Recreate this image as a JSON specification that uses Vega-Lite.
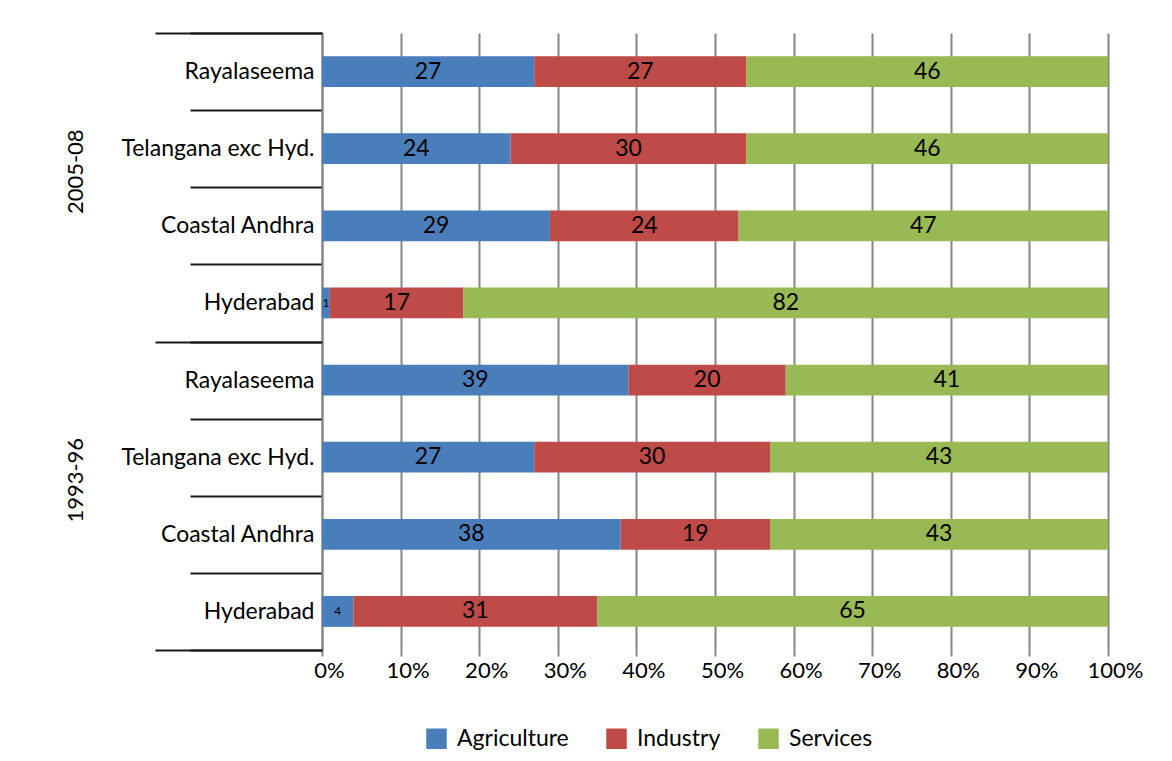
{
  "$schema": "https://vega.github.io/schema/vega-lite/v6.json",
  "width": 786,
  "height": 617,
  "autosize": {"type": "none"},
  "padding": {"left": 322, "top": 33, "right": 64, "bottom": 111},
  "background": "white",
  "config": {
    "view": {"stroke": null},
    "font": "Lato",
    "axis": {"labelColor": "#000000", "labelFont": "Lato"},
    "legend": {"labelColor": "#000000", "labelFont": "Lato"}
  },
  "datasets": {
    "shares": [
      {"period": "2005-08", "region": "Rayalaseema", "key": "2005-08|Rayalaseema", "sector": "Agriculture", "value": 27},
      {"period": "2005-08", "region": "Rayalaseema", "key": "2005-08|Rayalaseema", "sector": "Industry", "value": 27},
      {"period": "2005-08", "region": "Rayalaseema", "key": "2005-08|Rayalaseema", "sector": "Services", "value": 46},
      {"period": "2005-08", "region": "Telangana exc Hyd.", "key": "2005-08|Telangana exc Hyd.", "sector": "Agriculture", "value": 24},
      {"period": "2005-08", "region": "Telangana exc Hyd.", "key": "2005-08|Telangana exc Hyd.", "sector": "Industry", "value": 30},
      {"period": "2005-08", "region": "Telangana exc Hyd.", "key": "2005-08|Telangana exc Hyd.", "sector": "Services", "value": 46},
      {"period": "2005-08", "region": "Coastal Andhra", "key": "2005-08|Coastal Andhra", "sector": "Agriculture", "value": 29},
      {"period": "2005-08", "region": "Coastal Andhra", "key": "2005-08|Coastal Andhra", "sector": "Industry", "value": 24},
      {"period": "2005-08", "region": "Coastal Andhra", "key": "2005-08|Coastal Andhra", "sector": "Services", "value": 47},
      {"period": "2005-08", "region": "Hyderabad", "key": "2005-08|Hyderabad", "sector": "Agriculture", "value": 1},
      {"period": "2005-08", "region": "Hyderabad", "key": "2005-08|Hyderabad", "sector": "Industry", "value": 17},
      {"period": "2005-08", "region": "Hyderabad", "key": "2005-08|Hyderabad", "sector": "Services", "value": 82},
      {"period": "1993-96", "region": "Rayalaseema", "key": "1993-96|Rayalaseema", "sector": "Agriculture", "value": 39},
      {"period": "1993-96", "region": "Rayalaseema", "key": "1993-96|Rayalaseema", "sector": "Industry", "value": 20},
      {"period": "1993-96", "region": "Rayalaseema", "key": "1993-96|Rayalaseema", "sector": "Services", "value": 41},
      {"period": "1993-96", "region": "Telangana exc Hyd.", "key": "1993-96|Telangana exc Hyd.", "sector": "Agriculture", "value": 27},
      {"period": "1993-96", "region": "Telangana exc Hyd.", "key": "1993-96|Telangana exc Hyd.", "sector": "Industry", "value": 30},
      {"period": "1993-96", "region": "Telangana exc Hyd.", "key": "1993-96|Telangana exc Hyd.", "sector": "Services", "value": 43},
      {"period": "1993-96", "region": "Coastal Andhra", "key": "1993-96|Coastal Andhra", "sector": "Agriculture", "value": 38},
      {"period": "1993-96", "region": "Coastal Andhra", "key": "1993-96|Coastal Andhra", "sector": "Industry", "value": 19},
      {"period": "1993-96", "region": "Coastal Andhra", "key": "1993-96|Coastal Andhra", "sector": "Services", "value": 43},
      {"period": "1993-96", "region": "Hyderabad", "key": "1993-96|Hyderabad", "sector": "Agriculture", "value": 4},
      {"period": "1993-96", "region": "Hyderabad", "key": "1993-96|Hyderabad", "sector": "Industry", "value": 31},
      {"period": "1993-96", "region": "Hyderabad", "key": "1993-96|Hyderabad", "sector": "Services", "value": 65}
    ],
    "periods": [
      {"period": "2005-08"},
      {"period": "1993-96"}
    ]
  },
  "layer": [
    {
      "data": {"name": "shares"},
      "transform": [
        {"stack": "value", "groupby": ["key"], "sort": [{"field": "sector", "order": "ascending"}], "offset": "normalize", "as": ["v0", "v1"]},
        {"calculate": "(datum.v0 + datum.v1) / 2", "as": "mid"}
      ],
      "encoding": {
        "y": {
          "field": "key",
          "type": "nominal",
          "scale": {
            "domain": [
              "2005-08|Rayalaseema", "2005-08|Telangana exc Hyd.", "2005-08|Coastal Andhra", "2005-08|Hyderabad",
              "1993-96|Rayalaseema", "1993-96|Telangana exc Hyd.", "1993-96|Coastal Andhra", "1993-96|Hyderabad"
            ],
            "paddingInner": 0,
            "paddingOuter": 0
          },
          "axis": {
            "title": null,
            "orient": "left",
            "labelExpr": "split(datum.value, '|')[1]",
            "labelFontSize": 23,
            "labelLimit": 400,
            "labelPadding": -124,
            "ticks": true,
            "tickBand": "extent",
            "tickSize": 132,
            "tickColor": "#1a1a1a",
            "tickWidth": 2,
            "domain": true,
            "domainColor": "#868686",
            "domainWidth": 2,
            "grid": false
          }
        }
      },
      "layer": [
        {
          "mark": {"type": "bar", "height": {"band": 0.4}},
          "encoding": {
            "x": {
              "field": "v0",
              "type": "quantitative",
              "scale": {"domain": [0, 1], "nice": false},
              "axis": {
                "title": null,
                "format": "%",
                "values": [0, 0.1, 0.2, 0.3, 0.4, 0.5, 0.6, 0.7, 0.8, 0.9, 1],
                "grid": true,
                "gridColor": "#868686",
                "gridWidth": 2,
                "domain": false,
                "ticks": true,
                "tickSize": 6,
                "tickColor": "#868686",
                "tickWidth": 2,
                "labelFontSize": 22,
                "labelPadding": 4,
                "labelOffset": 7,
                "labelFlush": false
              }
            },
            "x2": {"field": "v1"},
            "color": {
              "field": "sector",
              "type": "nominal",
              "scale": {
                "domain": ["Agriculture", "Industry", "Services"],
                "range": ["#4A7EBB", "#BE4B48", "#98B954"]
              },
              "legend": {
                "title": null,
                "orient": "none",
                "legendX": 103,
                "legendY": 694,
                "direction": "horizontal",
                "symbolType": "square",
                "symbolSize": 420,
                "symbolStrokeWidth": 0,
                "labelFontSize": 23,
                "labelOffset": 9,
                "columnPadding": 36
              }
            }
          }
        },
        {
          "mark": {"type": "text", "color": "#000000", "font": "Lato", "baseline": "middle", "align": "center"},
          "encoding": {
            "x": {"field": "mid", "type": "quantitative"},
            "text": {"field": "value", "type": "quantitative"},
            "size": {
              "condition": {"test": "datum.value < 5", "value": 12},
              "value": 23
            }
          }
        }
      ]
    },
    {
      "data": {"name": "periods"},
      "mark": {"type": "point", "opacity": 0},
      "encoding": {
        "y": {
          "field": "period",
          "type": "nominal",
          "scale": {"type": "band", "domain": ["2005-08", "1993-96"], "paddingInner": 0, "paddingOuter": 0},
          "axis": {
            "title": null,
            "orient": "left",
            "domain": false,
            "grid": false,
            "ticks": true,
            "tickBand": "extent",
            "tickSize": 167,
            "tickColor": "#1a1a1a",
            "tickWidth": 2,
            "labelAngle": -90,
            "labelAlign": "center",
            "labelBaseline": "middle",
            "labelPadding": 80,
            "labelOffset": -16,
            "labelFontSize": 22
          }
        }
      }
    }
  ],
  "resolve": {"scale": {"y": "independent"}, "axis": {"y": "independent"}}
}
